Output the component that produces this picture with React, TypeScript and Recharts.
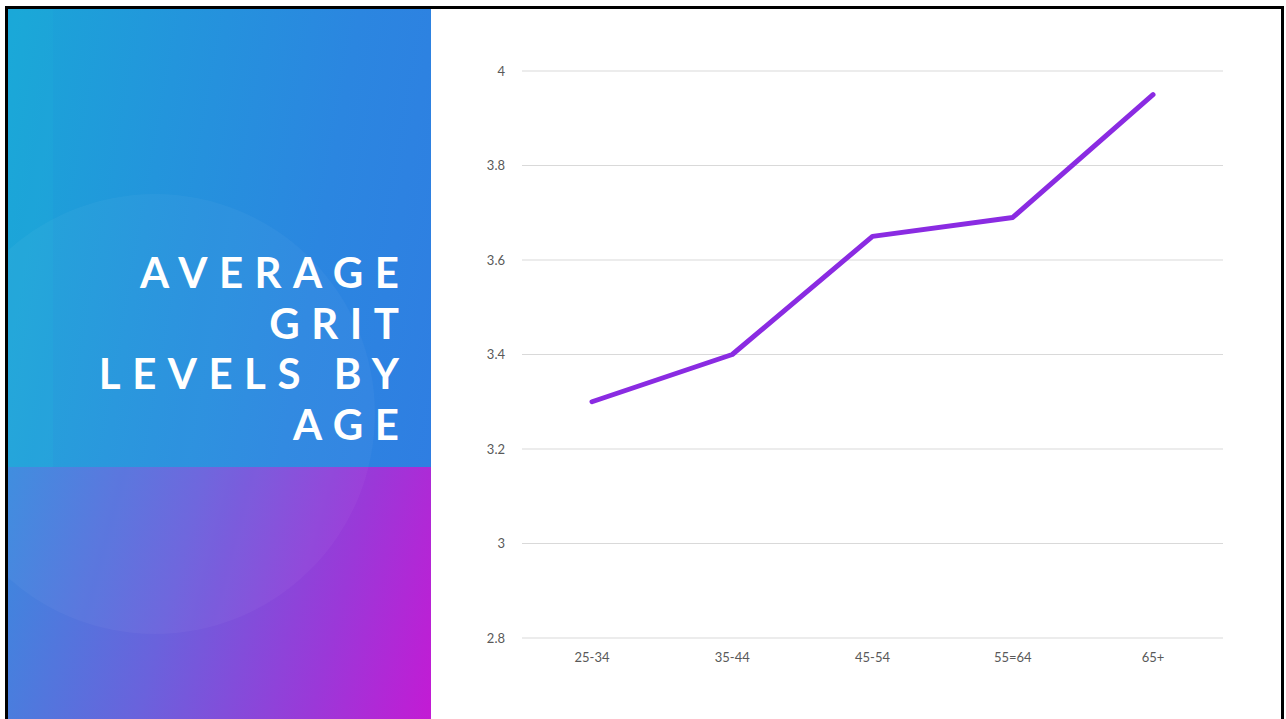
import React from "react";
import { LineChart, Line, XAxis, YAxis, CartesianGrid } from "recharts";

const ageGroups = ["25-34", "35-44", "45-54", "55=64", "65+"];
const gritValues = [3.3, 3.4, 3.65, 3.69, 3.95];
const yTicks = [2.8, 3, 3.2, 3.4, 3.6, 3.8, 4];
const titleLines = ["AVERAGE", "GRIT", "LEVELS BY", "AGE"];

const data = ageGroups.map((age, i) => ({ age, grit: gritValues[i] }));

export default function App() {
  return (
    <div style={{ position: "absolute", left: 0, top: 0, width: 1286, height: 719, overflow: "hidden", background: "#ffffff" }}>
      {/* slide border */}
      <div style={{ position: "absolute", left: 5, top: 6, width: 1273, height: 740, border: "3px solid #000", boxSizing: "content-box" }} />
      {/* left panel */}
      <div style={{ position: "absolute", left: 8, top: 9, width: 423, height: 720, overflow: "hidden" }}>
        <div style={{ position: "absolute", left: 0, top: 458, width: 423, height: 262, background: "linear-gradient(105deg, #3a8ade 0%, #6a62dc 40%, #9b38d8 75%, #c41ad4 100%)" }} />
        <div style={{ position: "absolute", left: 0, top: 0, width: 423, height: 458, background: "linear-gradient(100deg, #1aa6d7 0%, #2395dc 35%, #2b86e0 70%, #2f7ee2 100%)" }} />
        <div style={{ position: "absolute", left: 0, top: 0, width: 45, height: 458, background: "rgba(30,180,220,0.2)" }} />
        <div style={{ position: "absolute", left: 147 - 220, top: 405 - 220, width: 440, height: 440, borderRadius: "50%", background: "rgba(255,255,255,0.035)" }} />
        <div style={{ position: "absolute", right: 20.5, top: 238, textAlign: "right", color: "#fff", fontFamily: "Lato, 'Open Sans', sans-serif", fontWeight: 700, fontSize: 42, letterSpacing: 11.5, lineHeight: "50.5px", whiteSpace: "nowrap" }}>
          {titleLines.map((t) => (
            <div key={t}>{t}</div>
          ))}
        </div>
      </div>
      {/* chart */}
      <div style={{ position: "absolute", left: 431, top: 9 }}>
        <LineChart width={853} height={710} data={data} margin={{ top: 62, right: 61, bottom: 51, left: 31 }}>
          <CartesianGrid vertical={false} stroke="#d9d9d9" strokeWidth={1} />
          <XAxis
            dataKey="age"
            axisLine={false}
            tickLine={false}
            tickSize={0}
            tickMargin={15}
            height={30}
            interval={0}
            padding={{ left: 70, right: 70 }}
            tick={{ fill: "#595959", fontSize: 13, fontFamily: "Lato, sans-serif" }}
          />
          <YAxis
            domain={[2.8, 4]}
            ticks={yTicks}
            axisLine={false}
            tickLine={false}
            tickSize={0}
            tickMargin={17}
            width={60}
            interval={0}
            tick={{ fill: "#595959", fontSize: 13, fontFamily: "Lato, sans-serif" }}
          />
          <Line
            type="linear"
            dataKey="grit"
            stroke="#8a2be2"
            strokeWidth={5}
            strokeLinecap="round"
            strokeLinejoin="round"
            dot={false}
            activeDot={false}
            isAnimationActive={false}
          />
        </LineChart>
      </div>
    </div>
  );
}
